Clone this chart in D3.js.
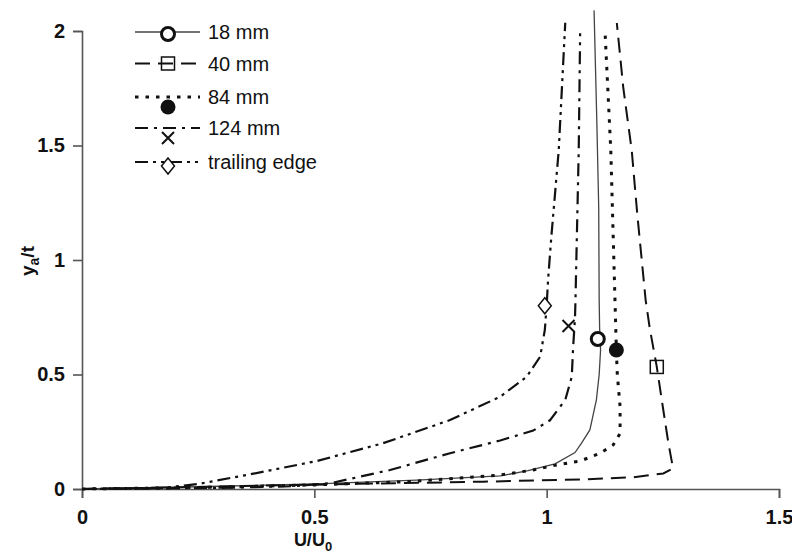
<!DOCTYPE html>
<html><head><meta charset="utf-8">
<script src="https://cdn.jsdelivr.net/npm/d3@7"></script>
<style>body{margin:0;background:#fff}svg{display:block}</style>
</head><body>
<svg id="c" width="792" height="553"></svg>
<script>
// ---- data (U/U0, ya/t) ----
const seriesNames = ["18 mm", "40 mm", "84 mm", "124 mm", "trailing edge"];
const u18  = [0,0.3,0.505,0.72,0.9,0.96,1.018,1.061,1.075,1.093,1.107,1.113,1.116,1.114,1.113,1.112,1.108,1.102];
const y18  = [0,0.012,0.022,0.039,0.057,0.08,0.11,0.159,0.2,0.258,0.389,0.5,0.607,0.7,0.825,1.23,1.6,2.09];
const u40  = [0,0.2,0.577,0.863,1.079,1.186,1.251,1.272,1.262,1.251,1.237,1.222,1.213,1.195,1.183,1.165,1.151];
const y40  = [0,0.007,0.022,0.032,0.042,0.051,0.068,0.09,0.2,0.345,0.533,0.7,0.825,1.2,1.48,1.75,2.035];
const u84  = [0,0.3,0.5,0.7,0.9,0.971,1.021,1.072,1.115,1.143,1.158,1.158,1.152,1.15,1.147,1.138,1.126];
const y84  = [0,0.008,0.018,0.032,0.061,0.083,0.105,0.122,0.156,0.192,0.243,0.36,0.5,0.607,0.825,1.48,1.98];
const u124 = [0,0.3,0.45,0.534,0.663,0.792,0.9,0.971,1.007,1.04,1.054,1.057,1.061,1.062,1.069,1.072];
const y124 = [0,0.005,0.012,0.025,0.083,0.156,0.212,0.255,0.3,0.389,0.49,0.62,0.75,0.825,1.48,1.99];
const uTE  = [0,0.17,0.25,0.354,0.505,0.648,0.792,0.9,0.957,0.986,0.996,1.0,1.003,1.01,1.026,1.04];
const yTE  = [0,0.004,0.022,0.061,0.122,0.2,0.301,0.403,0.49,0.578,0.694,0.8,0.913,1.1,1.48,2.036];
// single marker points
const markU = [1.11, 1.237, 1.150, 1.047, 0.996];
const markY = [0.655, 0.533, 0.607, 0.712, 0.80];
const xTicks = [0, 0.5, 1, 1.5];
const yTicks = [0, 0.5, 1, 1.5, 2];

const svg = d3.select("#c");
const FONT = "'Liberation Sans', Arial, Helvetica, sans-serif";
const x = d3.scaleLinear().domain([0, 1.5]).range([82, 779]);
const y = d3.scaleLinear().domain([0, 2]).range([489, 31]);

const axisColor = "#555";
const gx = svg.append("g").attr("transform", `translate(0,${y(0)})`)
  .call(d3.axisBottom(x).tickValues(xTicks).tickFormat(d => String(d)).tickSizeOuter(0).tickSize(9).tickPadding(12));
const gy = svg.append("g").attr("transform", `translate(${x(0)},0)`)
  .call(d3.axisLeft(y).tickValues(yTicks).tickFormat(d => String(d)).tickSizeOuter(0).tickSize(9).tickPadding(8));
[gx, gy].forEach(g => {
  g.selectAll("path,line").attr("stroke", axisColor).attr("stroke-width", 1.6);
  g.selectAll("text").attr("font-family", FONT).attr("font-size", 20).attr("font-weight", "bold").attr("fill", "#111");
});

// axis titles
const xt = svg.append("text").attr("x", 313).attr("y", 546).attr("text-anchor", "middle")
  .attr("font-family", FONT).attr("font-size", 18).attr("font-weight", "bold").attr("fill", "#111");
xt.append("tspan").text("U/U");
xt.append("tspan").attr("dy", 5).attr("font-size", 13).text("0");
const yt = svg.append("text").attr("transform", "translate(34,261) rotate(-90)").attr("text-anchor", "middle")
  .attr("font-family", FONT).attr("font-size", 19).attr("font-weight", "bold").attr("fill", "#111");
yt.append("tspan").text("y");
yt.append("tspan").attr("dy", 5).attr("font-size", 14).text("a");
yt.append("tspan").attr("dy", -5).text("/t");

const styles = [
  {dash: null, w: 1.3, col: "#444"},
  {dash: "15,8", w: 2, col: "#111"},
  {dash: "3.5,7", w: 3, col: "#111"},
  {dash: "13,6,3,6", w: 2.2, col: "#111"},
  {dash: "13,5,3,5,3,5", w: 2.2, col: "#111"}
];
const us = [u18, u40, u84, u124, uTE], ys = [y18, y40, y84, y124, yTE];
const line = d3.line().x(d => x(d[0])).y(d => y(d[1]));
us.forEach((u, i) => {
  const pts = u.map((v, k) => [v, ys[i][k]]);
  svg.append("path").attr("d", line(pts)).attr("fill", "none")
    .attr("stroke", styles[i].col).attr("stroke-width", styles[i].w)
    .attr("stroke-dasharray", styles[i].dash);
});

function marker(g, i, cx, cy) {
  if (i === 0) g.append("circle").attr("cx", cx).attr("cy", cy).attr("r", 6.5).attr("fill", "#fff").attr("stroke", "#111").attr("stroke-width", 3);
  else if (i === 1) g.append("rect").attr("x", cx - 6.5).attr("y", cy - 6.5).attr("width", 13).attr("height", 13).attr("fill", "none").attr("stroke", "#111").attr("stroke-width", 1.5);
  else if (i === 2) g.append("circle").attr("cx", cx).attr("cy", cy).attr("r", 7.5).attr("fill", "#111");
  else if (i === 3) g.append("path").attr("d", `M${cx-6},${cy-6}L${cx+6},${cy+6}M${cx-6},${cy+6}L${cx+6},${cy-6}`).attr("stroke", "#111").attr("stroke-width", 2);
  else g.append("path").attr("d", `M${cx},${cy-8}L${cx+6.5},${cy}L${cx},${cy+8}L${cx-6.5},${cy}Z`).attr("fill", "#fff").attr("stroke", "#111").attr("stroke-width", 1.5);
}
const mg = svg.append("g");
markU.forEach((u, i) => marker(mg, i, x(u), y(markY[i])));

// legend
const lg = svg.append("g");
const rowY = [32, 63.5, 97, 128, 162];
const mOff = [2, 0, 10, 10, 4];
seriesNames.forEach((name, i) => {
  const ly = rowY[i];
  lg.append("line").attr("x1", 135).attr("x2", 200).attr("y1", ly).attr("y2", ly)
    .attr("stroke", styles[i].col).attr("stroke-width", styles[i].w).attr("stroke-dasharray", styles[i].dash);
  marker(lg, i, 168, ly + mOff[i]);
  lg.append("text").attr("x", 208).attr("y", ly + 7).attr("font-family", FONT).attr("font-size", 20)
    .attr("fill", "#111").text(name);
});
</script>
</body></html>
